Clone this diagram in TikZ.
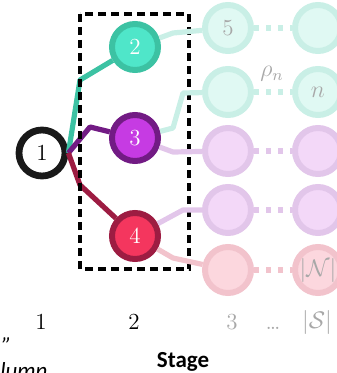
\documentclass[tikz,border=0pt]{standalone}
\usepackage{amsmath,amssymb}
\usepackage{fontspec}
\newfontfamily\capfont{Carlito}
\usepackage{tikz}
\definecolor{tealfill}{HTML}{4FE6C9}
\definecolor{tealedge}{HTML}{3CC2A3}
\definecolor{plumfill}{HTML}{C63BE3}
\definecolor{plumedge}{HTML}{721B84}
\definecolor{rosefill}{HTML}{F4365E}
\definecolor{roseedge}{HTML}{9D1C42}
\definecolor{tealpale}{HTML}{E0F9F3}
\definecolor{tealring}{HTML}{C9EFE6}
\definecolor{plumpale}{HTML}{F3D8F8}
\definecolor{plumring}{HTML}{E2C6EA}
\definecolor{rosepale}{HTML}{FCD7DE}
\definecolor{rosering}{HTML}{F2C3CC}
\definecolor{fadetext}{HTML}{A8A8A8}

\begin{document}
\begin{tikzpicture}[
    x=0.5pt, y=-0.5pt,
    stnode/.style={
      circle, line width=3pt, minimum size=23pt, inner sep=0pt,
      font=\fontsize{11.5}{13}\selectfont
    },
    hot/.style 2 args={fill=#1, draw=#2, text=white},
    pale/.style 2 args={fill=#1, draw=#2, text=fadetext},
    link/.style={line width=2.6pt, line join=round},
    gap/.style={line width=3pt, dash pattern=on 2.5pt off 3.5pt},
    lbl/.style={font=\fontsize{11.5}{13}\selectfont},
    capt/.style={font=\capfont\fontsize{11.5}{13}\selectfont}
  ]
  \useasboundingbox (0,0) rectangle (336,373);

  %% ===== stage 1 and 2 =====
  \node[stnode, draw=black!90, fill=white, line width=3.4pt] (n1) at (42,153) {1};
  \node[stnode, hot={tealfill}{tealedge}] (n2) at (135,47)  {2};
  \node[stnode, hot={plumfill}{plumedge}] (n3) at (135,138) {3};
  \node[stnode, hot={rosefill}{roseedge}] (n4) at (135,236) {4};

  \draw[link, tealedge] (n1.east) -- (80,80)   -- (n2);
  \draw[link, plumedge] (n1.east) -- (90,127)  -- (n3);
  \draw[link, roseedge] (n1.east) -- (80,185)  -- (n4);

  %% dashed frame round stage 2
  \draw[line width=2pt, dash pattern=on 4pt off 2.5pt] (80,14) rectangle (189,269);

  %% ===== stage 3 (faded) =====
  \node[stnode, pale={tealpale}{tealring}] (s3a) at (228,28)  {5};
  \node[stnode, pale={tealpale}{tealring}] (s3b) at (228,92)  {};
  \node[stnode, pale={plumpale}{plumring}] (s3c) at (228,151) {};
  \node[stnode, pale={plumpale}{plumring}] (s3d) at (228,210) {};
  \node[stnode, pale={rosepale}{rosering}] (s3e) at (228,270) {};

  \draw[link, tealring] (n2) -- (173,33)  -- (s3a);
  \draw[link, tealring] (n3) -- (173,128) -- (183,93) -- (s3b);
  \draw[link, plumring] (n3) -- (173,152) -- (s3c);
  \draw[link, plumring] (n4) -- (183,210) -- (s3d);
  \draw[link, rosering] (n4) -- (173,258) -- (s3e);

  %% ===== last stage |S| (faded, cut at the edge) =====
  \node[stnode, pale={tealpale}{tealring}] (sSa) at (318,28)  {};
  \node[stnode, pale={tealpale}{tealring}] (sSb) at (318,92)  {$n$};
  \node[stnode, pale={plumpale}{plumring}] (sSc) at (318,151) {};
  \node[stnode, pale={plumpale}{plumring}] (sSd) at (318,210) {};
  \node[stnode, pale={rosepale}{rosering}] (sSe) at (318,270) {$|\mathcal{N}|$};

  \draw[gap, tealring] (s3a) -- (sSa);
  \draw[gap, tealring] (s3b) -- (sSb);
  \draw[gap, plumring] (s3c) -- (sSc);
  \draw[gap, plumring] (s3d) -- (sSd);
  \draw[gap, rosering] (s3e) -- (sSe);

  \node[lbl, text=fadetext] (rho) at (272,74) {$\rho_n$};

  %% ===== stage axis =====
  \node[lbl] (t1) at (41,322)  {1};
  \node[lbl] (t2) at (134,322) {2};
  \node[lbl, text=fadetext] (t3) at (232,322) {3};
  \node[lbl, text=fadetext, anchor=base] (tdots) at (273,329) {\ldots};
  \node[lbl, text=fadetext] (tS) at (317,322) {$|\mathcal{S}|$};

  \node[font=\capfont\bfseries\fontsize{11.5}{13}\selectfont] (stage) at (183,362) {Stage};

  %% cut-off caption on the left
  \node[capt, anchor=base east, inner sep=0pt] (qmark) at (12,353) {\textit{”}};
  \node[capt, anchor=base west, inner sep=0pt] (colw) at (0,378) {\textit{lumn}};
\end{tikzpicture}
\end{document}
